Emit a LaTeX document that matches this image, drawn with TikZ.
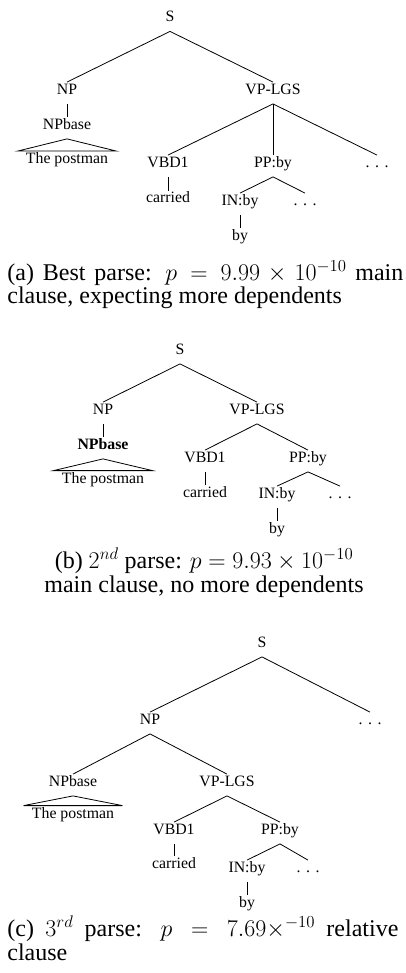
\documentclass[tikz,border=0pt]{standalone}
\usepackage{fix-cm}
\usepackage[no-math]{fontspec}
\setmainfont{Liberation Serif}
\newcommand{\tdots}{.\hspace{.35em}.\hspace{.35em}.}

\begin{document}
\begin{tikzpicture}
  [x=1pt,y=-1pt,line width=.8pt,
   every node/.style={font=\fontsize{15.8}{18}\selectfont,inner sep=2pt,text height=10pt,text depth=7pt},
   captext/.style={font=\fontsize{24}{24}\selectfont,inner sep=0pt,text height=,text depth=}]
  \useasboundingbox (0,0) rectangle (406,973);

  \node (sA)   at (170,20.5) {S};
  \node (npA)  at (67,93)    {NP};
  \node (npbA) at (67,128)   {NPbase};
  \node (pmA)  at (67,162)   {The postman};
  \node (vpA)  at (273,93)   {VP-LGS};
  \node (vbdA) at (168,166)  {VBD1};
  \node (carA) at (168,201.5) {carried};
  \node (ppA)  at (273,166)  {PP:by};
  \node (dotsA) at (377,166) {\tdots};
  \node (inA)  at (240,204)  {IN:by};
  \node (dotsB) at (305,204) {\tdots};
  \node (byA)  at (240,239)  {by};

  \foreach \from/\to in {sA/npA,sA/vpA,npA/npbA,vpA/vbdA,vpA/ppA,vpA/dotsA,vbdA/carA,ppA/inA,ppA/dotsB,inA/byA}
    \draw (\from.south) -- (\to.north);
  \draw (npbA.south) -- ([xshift=-6pt]pmA.north west) -- ([xshift=6pt]pmA.north east) -- cycle;

  \node[captext,anchor=base west] (capA1) at (7,280) {\makebox[396pt][s]{(a) Best parse: $p = 9.99\times10^{-10}$ main}};
  \node[captext,anchor=base west] (capA2) at (7,303) {clause, expecting more dependents};

  \node (sB)   at (180,353)  {S};
  \node (npB)  at (103,413)  {NP};
  \node (npbB) at (103,448)  {\textbf{NPbase}};
  \node (pmB)  at (103,481.5) {The postman};
  \node (vpB)  at (257,413)  {VP-LGS};
  \node (vbdB) at (205,461)  {VBD1};
  \node (carB) at (205,496)  {carried};
  \node (ppB)  at (308,461)  {PP:by};
  \node (inB)  at (277,497)  {IN:by};
  \node (dotsC) at (340,497) {\tdots};
  \node (byB)  at (277,532)  {by};

  \foreach \from/\to in {sB/npB,sB/vpB,npB/npbB,vpB/vbdB,vpB/ppB,vbdB/carB,ppB/inB,ppB/dotsC,inB/byB}
    \draw (\from.south) -- (\to.north);
  \draw (npbB.south) -- ([xshift=-6pt]pmB.north west) -- ([xshift=6pt]pmB.north east) -- cycle;

  \node[captext,anchor=base] (capB1) at (204,568) {(b) $2^{nd}$ parse: $p = 9.93\times10^{-10}$};
  \node[captext,anchor=base] (capB2) at (204,592) {main clause, no more dependents};

  \node (sC)   at (262,646)  {S};
  \node (npC)  at (150,723)  {NP};
  \node (dotsD) at (370,723) {\tdots};
  \node (npbC) at (73,785)   {NPbase};
  \node (pmC)  at (73,816.5) {The postman};
  \node (vpC)  at (227,785)  {VP-LGS};
  \node (vbdC) at (174,833)  {VBD1};
  \node (carC) at (174,867)  {carried};
  \node (ppC)  at (280,833)  {PP:by};
  \node (inC)  at (247,871)  {IN:by};
  \node (dotsE) at (308,871) {\tdots};
  \node (byC)  at (247,906)  {by};

  \foreach \from/\to in {sC/npC,sC/dotsD,npC/npbC,npC/vpC,vpC/vbdC,vpC/ppC,vbdC/carC,ppC/inC,ppC/dotsE,inC/byC}
    \draw (\from.south) -- (\to.north);
  \draw (npbC.south) -- ([xshift=-6pt]pmC.north west) -- ([xshift=6pt]pmC.north east) -- cycle;

  \node[captext,anchor=base west] (capC1) at (7,936) {\makebox[391pt][s]{(c) $3^{rd}$ parse: $p = 7.69\times^{-10}$ relative}};
  \node[captext,anchor=base west] (capC2) at (7,960) {clause};

\end{tikzpicture}
\end{document}
